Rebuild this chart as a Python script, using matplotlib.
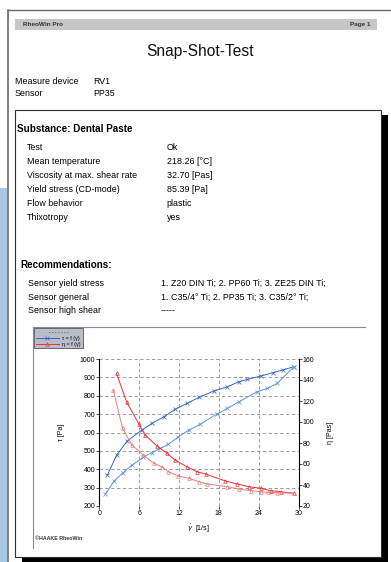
import matplotlib
matplotlib.use("Agg")
import matplotlib.pyplot as plt
from matplotlib.patches import Rectangle

plt.rcParams['font.family'] = ['Liberation Sans', 'DejaVu Sans']
plt.rcParams['mathtext.fontset'] = 'dejavusans'

W, H = 391, 562

rate_tau_1 = [1.2, 2.6, 4.2, 6.4, 7.9, 9.7, 11.4, 13.2, 15.0, 17.2, 19.3, 21.0, 22.3, 24.3, 26.1, 27.6, 29.3]
tau_1 = [367, 476, 554, 613, 649, 685, 726, 758, 791, 825, 849, 876, 889, 907, 925, 940, 958]
rate_tau_2 = [0.9, 2.2, 3.6, 4.9, 6.6, 7.9, 9.2, 10.4, 11.9, 13.5, 15.2, 17.7, 19.3, 21.0, 23.8, 25.3, 26.8, 29.3]
tau_2 = [264, 335, 382, 422, 464, 491, 513, 536, 576, 613, 645, 700, 731, 767, 822, 840, 867, 958]
rate_eta_1 = [2.6, 4.1, 6.0, 6.9, 8.7, 10.2, 11.4, 13.2, 14.7, 16.0, 19.0, 20.8, 22.5, 24.3, 25.8, 27.3, 29.3]
eta_1 = [146.4, 119.3, 97.8, 87.6, 77.1, 70.2, 63.8, 57.4, 52.7, 50.5, 43.8, 41.0, 38.4, 36.9, 34.6, 33.6, 32.1]
rate_eta_2 = [2.1, 3.5, 4.9, 6.6, 8.2, 9.4, 10.4, 11.9, 13.5, 15.0, 16.2, 19.3, 21.0, 22.8, 24.3, 25.4, 26.8, 29.3]
eta_2 = [130.5, 94.0, 78.1, 68.6, 60.7, 57.4, 52.7, 48.6, 46.4, 43.1, 41.0, 38.4, 36.2, 34.6, 33.6, 33.0, 32.7, 32.1]

x_ticks = [0, 6, 12, 18, 24, 30]
tau_ticks = [200, 300, 400, 500, 600, 700, 800, 900, 1000]
eta_ticks = [20, 40, 60, 80, 100, 120, 140, 160]

head_labels = ["Measure device", "Sensor"]
head_values = ["RV1", "PP35"]
info_labels = ["Test", "Mean temperature", "Viscosity at max. shear rate",
               "Yield stress (CD-mode)", "Flow behavior", "Thixotropy"]
info_values = ["Ok", "218.26 [°C]", "32.70 [Pas]", "85.39 [Pa]", "plastic", "yes"]
rec_labels = ["Sensor yield stress", "Sensor general", "Sensor high shear"]
rec_values = ["1. Z20 DIN Ti; 2. PP60 Ti; 3. ZE25 DIN Ti;",
              "1. C35/4° Ti; 2. PP35 Ti; 3. C35/2° Ti;", "-----"]

fig = plt.figure(figsize=(W / 100, H / 100), dpi=100)

# Seitenlayout in Pixelkoordinaten
bg = fig.add_axes([0, 0, 1, 1])
bg.set_xlim(0, W)
bg.set_ylim(H, 0)
bg.axis('off')

TXT = 6.4
BOLD = 7.1

bg.add_patch(Rectangle((0, 188), 7, H - 188, color='#a9c7ea', lw=0))
bg.plot([7.5, 7.5], [10, H], color='#6a6a6a', lw=1.2)
bg.plot([7.5, W], [10, 10], color='#6a6a6a', lw=1.0)

bg.add_patch(Rectangle((15, 19), 362, 11, color='#c6c6c6', lw=0))
bg.text(23, 24.5, 'RheoWin Pro', fontsize=4.6, fontweight='bold', va='center', color='#333333')
bg.text(370, 24.5, 'Page 1', fontsize=4.6, fontweight='bold', va='center', ha='right', color='#333333')
bg.text(200, 51.7, 'Snap-Shot-Test', fontsize=11.2, ha='center', va='center', color='#111111')

for i, (lab, val) in enumerate(zip(head_labels, head_values)):
    y = 82 + i * 11.7
    bg.text(15, y, lab, fontsize=TXT, va='center')
    bg.text(93, y, val, fontsize=TXT, va='center')

# Schatten + innerer Kasten
bg.add_patch(Rectangle((381, 115), 7, H - 115, color='black', lw=0))
bg.add_patch(Rectangle((22, 556.5), 366, H - 556.5, color='black', lw=0))
bg.add_patch(Rectangle((14.5, 109.5), 366.5, 447, fill=False, ec='#303030', lw=0.8))

bg.text(17, 129, 'Substance: Dental Paste', fontsize=BOLD, fontweight='bold', va='center')
for i, (lab, val) in enumerate(zip(info_labels, info_values)):
    y = 147.3 + i * 14.08
    bg.text(27.3, y, lab, fontsize=TXT, va='center')
    bg.text(166.7, y, val, fontsize=TXT, va='center')

bg.text(20, 265, 'Recommendations:', fontsize=BOLD, fontweight='bold', va='center')
for i, (lab, val) in enumerate(zip(rec_labels, rec_values)):
    y = 283.3 + i * 13.7
    bg.text(28.3, y, lab, fontsize=TXT, va='center')
    bg.text(161, y, val, fontsize=TXT, va='center')

# Diagrammrahmen
bg.plot([33, 365], [327, 327], color='#8a8a8a', lw=0.8)
bg.plot([33, 33], [327, 548], color='#8a8a8a', lw=0.8)
bg.text(35, 538, '©HAAKE RheoWin', fontsize=3.8, fontweight='bold', va='center', color='#333333')

# Diagramm
x0, x1, y0, y1 = 99.3, 298.5, 359, 506
ax = fig.add_axes([x0 / W, 1 - y1 / H, (x1 - x0) / W, (y1 - y0) / H])
ax.set_xlim(0, 30)
ax.set_ylim(200, 1000)
ax2 = ax.twinx()
ax2.set_ylim(20, 160)

blue_dark, blue_light = '#3366c8', '#5f92dc'
red_dark, red_light = '#ee3030', '#f47c7c'

l_tau, = ax.plot(rate_tau_1, tau_1, color=blue_dark, lw=0.7, marker='x', ms=2.2, mew=0.5)
ax.plot(rate_tau_2, tau_2, color=blue_light, lw=0.7, marker='x', ms=2.2, mew=0.5)
l_eta, = ax2.plot(rate_eta_1, eta_1, color=red_dark, lw=0.7, marker='^', ms=2.6, mew=0.5, mfc='none')
ax2.plot(rate_eta_2, eta_2, color=red_light, lw=0.7, marker='^', ms=2.6, mew=0.5, mfc='none')

ax.set_xticks(x_ticks)
ax.set_yticks(tau_ticks)
ax2.set_yticks(eta_ticks)
for a in (ax, ax2):
    a.tick_params(labelsize=5, length=2, width=0.5, pad=1)
    for s in a.spines.values():
        s.set_visible(False)
ax.spines['left'].set_visible(True)
ax.spines['left'].set_linewidth(0.8)
ax2.spines['right'].set_visible(True)
ax2.spines['right'].set_linewidth(0.8)
ax.grid(True, linestyle=(0, (4, 3)), color='#8c8c8c', lw=0.6)

ax.set_ylabel('τ [Pa]', fontsize=5)
ax.yaxis.set_label_coords((65 - x0) / (x1 - x0), 0.5)
ax2.set_ylabel('η [Pas]', fontsize=5)
ax2.yaxis.set_label_coords((327 - x0) / (x1 - x0), 0.5)
ax.set_xlabel(r'$\dot{\gamma}$  [1/s]', fontsize=5)
ax.xaxis.set_label_coords((198 - x0) / (x1 - x0), -(522 - y1) / (y1 - y0))

leg = ax2.legend([l_tau, l_eta], ['τ = f (γ̇)', 'η = f (γ̇)'], loc='upper left',
                 bbox_to_anchor=(34 / W, 1 - 328 / H), bbox_transform=fig.transFigure,
                 borderaxespad=0, fontsize=3.9, frameon=True, fancybox=False,
                 facecolor='#b9bdca', edgecolor='#555555', framealpha=1, borderpad=0.35,
                 handlelength=4.2, handletextpad=0.7, labelspacing=0.15,
                 title='- - - - - - -', title_fontsize=3.5)
leg.get_frame().set_linewidth(0.6)

fig.savefig('out.png', dpi=100)
